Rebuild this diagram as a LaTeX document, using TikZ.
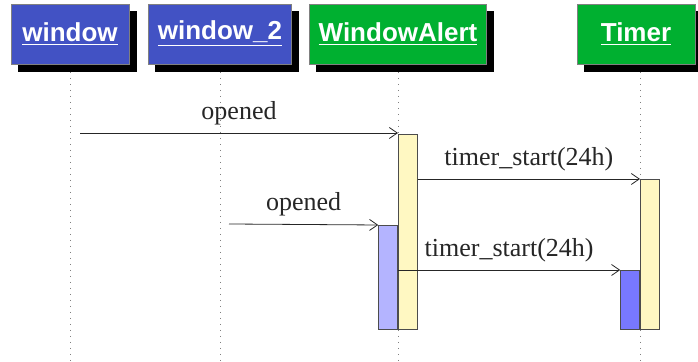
\documentclass[tikz,border=0pt]{standalone}
\usepackage{fontspec}
\setmainfont{Liberation Serif}
\newfontfamily\headfont{Liberation Sans}
\usetikzlibrary{arrows.meta}
\definecolor{objblue}{RGB}{66,82,196}
\definecolor{objgreen}{RGB}{0,176,48}
\definecolor{actyellow}{RGB}{255,248,194}
\definecolor{actlav}{RGB}{180,180,255}
\definecolor{actblue}{RGB}{120,120,255}
\tikzset{
    object/.style={
        draw=gray, thin, text=white,
        minimum width=59pt, minimum height=30pt, inner xsep=4.5pt,
        font=\headfont\bfseries\fontsize{13}{15}\selectfont,
        preaction={fill=black, draw=black, transform canvas={xshift=3.5pt, yshift=-3.5pt}}
    },
    lifeline/.style={gray, thin, dash pattern=on 0.5pt off 2.5pt},
    activation/.style={draw=black!70, thin, minimum width=9.5pt, inner sep=0pt},
    message/.style={-{Straight Barb[length=4pt,width=5.5pt]}, black!85, thin},
    msglabel/.style={midway, above, inner sep=4pt, font=\fontsize{13}{15}\selectfont}
}

\begin{document}
\begin{tikzpicture}[x=0.5pt, y=-0.5pt]
    \useasboundingbox (0,0) rectangle (698,362);
    \foreach \x in {70,220,398,640} {
        \draw [lifeline] (\x,66) -- (\x,362);
    }
    \node [object, fill=objblue] (window) at (70,34) {\underline{window}};
    \node [object, fill=objblue] (window2) at (220,34) {\underline{window\_2}};
    \node [object, fill=objgreen] (alert) at (398,34) {\underline{WindowAlert}};
    \node [object, fill=objgreen] (timer) at (636,34) {\underline{Timer}};

    \node [activation, fill=actyellow, anchor=north west, minimum height=97.5pt] (alertact) at (398,134) {};
    \node [activation, fill=actlav, anchor=north east, minimum height=52pt] (alertin) at (398,225) {};
    \node [activation, fill=actyellow, anchor=north west, minimum height=75pt] (timeract) at (640,179) {};
    \node [activation, fill=actblue, anchor=north east, minimum height=29.5pt] (timerin) at (640,270) {};

    \coordinate (send1) at (80,133);
    \coordinate (send2) at (229,224);
    \draw [message] (send1) -- (send1 -| alertact.west) node [msglabel] {opened};
    \draw [message] (alertact.east |- timeract.north) -- (timeract.north west) node [msglabel] {timer\_start(24h)};
    \draw [message] (send2) -- (alertin.north west) node [msglabel] {opened};
    \draw [message] (alertact.west |- timerin.north) -- (timerin.north west) node [msglabel] {timer\_start(24h)};
\end{tikzpicture}
\end{document}
